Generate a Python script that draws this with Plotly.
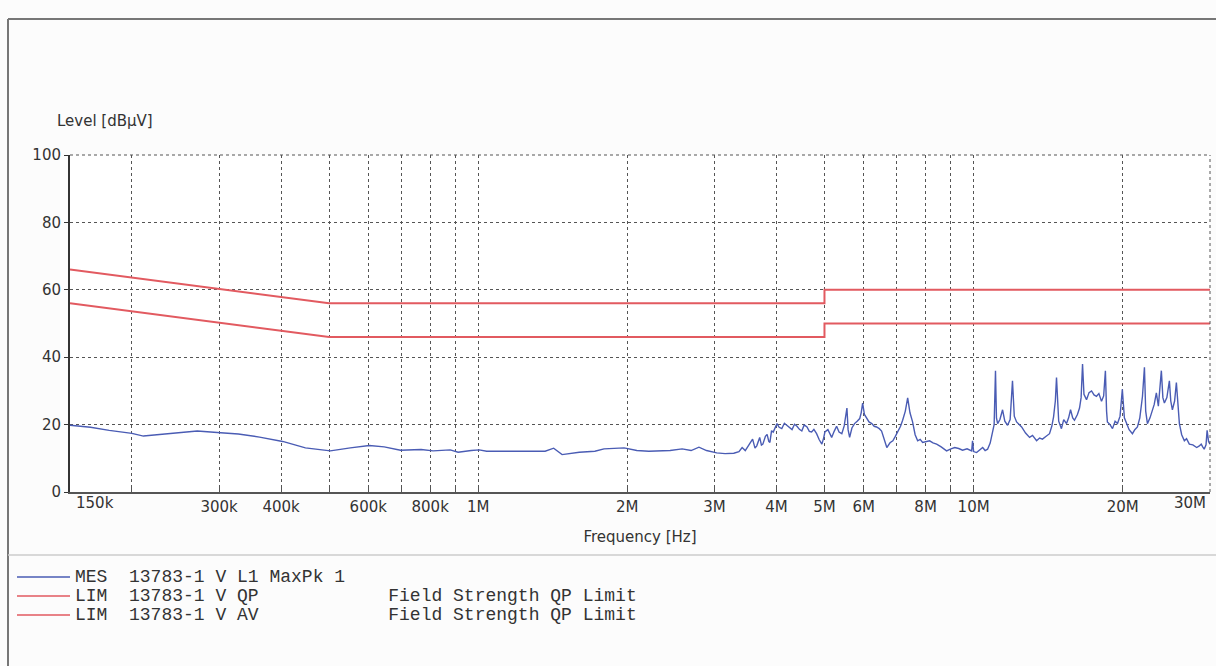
import math
import plotly.graph_objects as go

# ---------------- data (frequency in MHz, level in dBµV) ----------------
mes_freq_mhz = [
    0.150, 0.165, 0.180, 0.200, 0.211, 0.237, 0.271, 0.302, 0.328, 0.362,
    0.403, 0.448, 0.503, 0.552, 0.603, 0.646, 0.697, 0.767, 0.811, 0.878,
    0.911, 0.968, 1.005, 1.04, 1.19, 1.365, 1.42, 1.477, 1.60, 1.72,
    1.795, 1.97, 2.09, 2.21, 2.44, 2.58, 2.69, 2.79, 2.89, 3.03,
    3.15, 3.28, 3.36, 3.41, 3.46, 3.53, 3.58, 3.62, 3.65, 3.70,
    3.73, 3.755, 3.80, 3.83, 3.86, 3.88, 3.91, 3.94, 3.97, 4.01,
    4.05, 4.10, 4.15, 4.20, 4.25, 4.30, 4.35, 4.40, 4.45, 4.50,
    4.55, 4.61, 4.66, 4.71, 4.76, 4.82, 4.88, 4.94, 4.98, 5.01,
    5.08, 5.17, 5.23, 5.29, 5.35, 5.42, 5.48, 5.52, 5.55, 5.58,
    5.62, 5.68, 5.75, 5.82, 5.89, 5.93, 5.97, 6.02, 6.08, 6.15,
    6.23, 6.30, 6.37, 6.45, 6.52, 6.60, 6.68, 6.78, 6.87, 6.95,
    7.03, 7.12, 7.19, 7.28, 7.36, 7.44, 7.53, 7.62, 7.71, 7.80,
    7.89, 8.02, 8.15, 8.28, 8.42, 8.60, 8.82, 9.00, 9.16, 9.33,
    9.50, 9.70, 9.91, 9.95, 10.0, 10.14, 10.30, 10.43, 10.55, 10.67,
    10.80, 10.92, 11.00, 11.07, 11.12, 11.18, 11.30, 11.44, 11.56, 11.71,
    11.85, 11.98, 12.08, 12.21, 12.35, 12.50, 12.73, 12.97, 13.15, 13.40,
    13.59, 13.77, 14.03, 14.23, 14.38, 14.50, 14.62, 14.70, 14.85, 15.04,
    15.20, 15.40, 15.55, 15.69, 15.85, 15.98, 16.20, 16.36, 16.48, 16.59,
    16.70, 16.90, 17.10, 17.30, 17.50, 17.70, 17.90, 18.12, 18.30, 18.45,
    18.55, 18.62, 18.85, 19.07, 19.30, 19.52, 19.75, 19.96, 20.15, 20.35,
    20.60, 20.92, 21.15, 21.41, 21.65, 21.92, 22.12, 22.25, 22.43, 22.70,
    22.95, 23.15, 23.38, 23.60, 23.93, 24.10, 24.27, 24.55, 24.84, 25.00,
    25.19, 25.45, 25.66, 25.85, 26.02, 26.30, 26.63, 26.90, 27.25, 27.70,
    28.2, 28.5, 28.8, 29.0, 29.2, 29.45, 29.6, 29.8, 30.0,
]
mes_level = [
    19.8, 19.2, 18.3, 17.4, 16.6, 17.2, 18.1, 17.6, 17.2, 16.3,
    15.0, 13.1, 12.2, 13.1, 13.8, 13.4, 12.4, 12.6, 12.2, 12.5,
    11.8, 12.3, 12.5, 12.1, 12.1, 12.1, 13.0, 11.1, 11.8, 12.1,
    12.8, 13.1, 12.3, 12.1, 12.3, 12.8, 12.3, 13.3, 12.3, 11.6,
    11.4, 11.5, 12.0, 13.2, 12.3, 14.2, 15.7, 13.0, 13.7, 16.2,
    13.9, 14.2, 16.5, 17.1, 15.0, 14.7, 18.2, 17.8, 19.0, 20.3,
    19.2, 18.8, 20.4, 19.8, 19.0, 18.5, 20.1, 19.5, 18.6, 18.1,
    19.9, 19.3, 18.0, 17.8, 18.6, 17.3, 15.5, 14.2, 16.0, 17.8,
    18.5, 16.2, 18.0, 19.5, 17.8, 17.3, 19.6, 22.0, 24.9, 18.5,
    16.2, 19.0, 20.3, 21.0, 21.8, 23.5, 26.4, 23.0, 21.8, 20.8,
    20.3, 19.5, 19.3, 18.8, 18.1, 15.5, 13.2, 14.6, 15.2, 16.5,
    17.8, 19.5, 21.3, 24.0, 27.9, 23.5, 20.8, 17.0, 15.2, 15.6,
    14.7, 15.0, 15.2, 14.6, 14.2, 13.4, 12.2, 12.8, 13.2, 12.9,
    12.4, 12.8, 12.2, 15.2, 12.0, 11.7, 12.6, 13.2, 12.3, 12.7,
    14.5, 18.3, 20.0, 36.0, 22.0, 20.3, 21.5, 24.4, 21.0, 19.8,
    21.5, 33.0, 22.5, 20.8, 20.0, 19.3, 17.5, 16.2, 16.8, 15.2,
    16.0, 15.7, 16.6, 17.3, 19.5, 22.3, 27.0, 34.0, 21.0, 18.8,
    21.5, 20.3, 22.0, 24.4, 22.0, 21.3, 23.0, 24.9, 28.0, 38.0,
    29.0, 27.4, 29.5, 30.0, 28.8, 28.4, 29.2, 26.9, 28.5, 36.0,
    24.0, 20.8, 20.0, 18.8, 21.0, 20.3, 22.5, 30.5, 22.0, 20.3,
    18.5, 17.3, 18.5, 19.3, 22.0, 28.4, 37.0, 24.0, 20.3, 22.0,
    24.4, 26.0, 29.4, 25.5, 36.0, 28.0, 26.4, 28.0, 33.0, 27.0,
    24.4, 27.0, 32.5, 24.0, 20.3, 17.0, 15.2, 15.8, 14.2, 14.0,
    13.2, 13.6, 14.2, 13.4, 12.7, 14.0, 18.3, 15.0, 14.2,
]

qp_freq_mhz = [0.15, 0.5, 5.0, 5.0, 30.0]
qp_level = [66.0, 56.0, 56.0, 60.0, 60.0]
av_freq_mhz = [0.15, 0.5, 5.0, 5.0, 30.0]
av_level = [56.0, 46.0, 46.0, 50.0, 50.0]

x_tick_vals = [0.15, 0.2, 0.3, 0.4, 0.5, 0.6, 0.7, 0.8, 0.9, 1, 2, 3, 4, 5, 6, 7, 8, 9, 10, 20, 30]
x_tick_text = ["150k", "", "300k", "400k", "", "600k", "", "800k", "", "1M",
               "2M", "3M", "4M", "5M", "6M", "", "8M", "", "10M", "20M", "30M"]
y_tick_vals = [0, 20, 40, 60, 80, 100]

legend_rows = [
    ("MES", "13783-1 V L1 MaxPk 1", ""),
    ("LIM", "13783-1 V QP", "Field Strength QP Limit"),
    ("LIM", "13783-1 V AV", "Field Strength QP Limit"),
]

# ---------------- styles ----------------
BLUE = "#4a5cb4"
RED = "#e25a60"
GRID = "#555555"
TXT = "#333333"
SANS = "DejaVu Sans"
MONO = "Liberation Mono"
NB = "\u00a0"

W, H = 1216, 666
ML, MR, MT, MB = 70, 6, 155, 174
PW = W - ML - MR
PH = H - MT - MB


def px_x(px):
    return (px - ML) / PW


def px_y(py):
    return (H - MB - py) / PH


# edge labels (first / last) are drawn inward of their ticks, as in the original
axis_text = [""] + x_tick_text[1:-1] + [""]

fig = go.Figure()
fig.add_trace(go.Scatter(x=mes_freq_mhz, y=mes_level, mode="lines",
                         line=dict(color=BLUE, width=1.4), showlegend=False))
fig.add_trace(go.Scatter(x=qp_freq_mhz, y=qp_level, mode="lines",
                         line=dict(color=RED, width=2), showlegend=False))
fig.add_trace(go.Scatter(x=av_freq_mhz, y=av_level, mode="lines",
                         line=dict(color=RED, width=2), showlegend=False))

fig.update_xaxes(
    type="log",
    range=[math.log10(0.15), math.log10(30.0)],
    tickvals=x_tick_vals, ticktext=axis_text,
    showgrid=True, gridcolor=GRID, gridwidth=1, griddash="3px,3px",
    showline=True, linecolor="#555555", linewidth=2,
    ticks="inside", ticklen=4, tickcolor="#555555",
    tickfont=dict(family=SANS, size=15, color=TXT),
    title=dict(text="Frequency [Hz]", font=dict(family=SANS, size=15, color=TXT), standoff=16),
    zeroline=False,
)
fig.update_yaxes(
    range=[0, 100], tickvals=y_tick_vals,
    showgrid=True, gridcolor=GRID, gridwidth=1, griddash="3px,3px",
    showline=True, linecolor=TXT, linewidth=2,
    ticks="outside", ticklen=4, tickcolor=TXT,
    tickfont=dict(family=SANS, size=15, color=TXT),
    zeroline=False,
)

shapes = []
# dashed top and right borders of the plot
shapes.append(dict(type="line", xref="paper", yref="paper", x0=0, x1=1, y0=1, y1=1,
                   line=dict(color=GRID, width=1, dash="3px,3px")))
shapes.append(dict(type="line", xref="paper", yref="paper", x0=1, x1=1, y0=0, y1=1,
                   line=dict(color=GRID, width=1, dash="3px,3px")))
# page frame
shapes.append(dict(type="line", xref="paper", yref="paper", x0=px_x(8), x1=px_x(1216),
                   y0=px_y(19), y1=px_y(19), line=dict(color="#777777", width=2)))
shapes.append(dict(type="line", xref="paper", yref="paper", x0=px_x(8), x1=px_x(8),
                   y0=px_y(19), y1=px_y(666), line=dict(color="#777777", width=2)))
shapes.append(dict(type="line", xref="paper", yref="paper", x0=px_x(8), x1=px_x(1216),
                   y0=px_y(555), y1=px_y(555), line=dict(color="#cccccc", width=1.5)))

annotations = [
    dict(text="Level [dBµV]", xref="paper", yref="paper", x=px_x(55), y=px_y(121),
         xanchor="left", yanchor="middle", showarrow=False,
         font=dict(family=SANS, size=15, color=TXT)),
    # first and last frequency labels, aligned inward from their ticks
    dict(text=x_tick_text[0], xref="x", yref="paper", x=math.log10(x_tick_vals[0]),
         y=px_y(503), xanchor="left", yanchor="middle", xshift=4, showarrow=False,
         font=dict(family=SANS, size=15, color=TXT)),
    dict(text=x_tick_text[-1], xref="x", yref="paper", x=math.log10(x_tick_vals[-1]),
         y=px_y(503), xanchor="right", yanchor="middle", xshift=-2, showarrow=False,
         font=dict(family=SANS, size=15, color=TXT)),
]

legend_colors = [BLUE, RED, RED]
row_y = [577, 596, 615]
for (tag, name, desc), col, ry in zip(legend_rows, legend_colors, row_y):
    shapes.append(dict(type="line", xref="paper", yref="paper", x0=px_x(17), x1=px_x(70),
                       y0=px_y(ry), y1=px_y(ry), line=dict(color=col, width=1.5)))
    line = tag + NB * 2 + name.replace(" ", NB)
    if desc:
        line = line + NB * (29 - len(line)) + desc.replace(" ", NB)
    annotations.append(dict(text=line, xref="paper", yref="paper", x=px_x(73), y=px_y(ry),
                            xanchor="left", yanchor="middle", showarrow=False,
                            font=dict(family=MONO, size=18, color=TXT)))

fig.update_layout(
    width=W, height=H,
    margin=dict(l=ML, r=MR, t=MT, b=MB),
    paper_bgcolor="#fcfcfc", plot_bgcolor="#ffffff",
    shapes=shapes, annotations=annotations,
    showlegend=False,
)

fig.write_html("out.html", config={"displayModeBar": False},
               post_script="document.body.style.margin='0';document.body.style.overflow='hidden';")
